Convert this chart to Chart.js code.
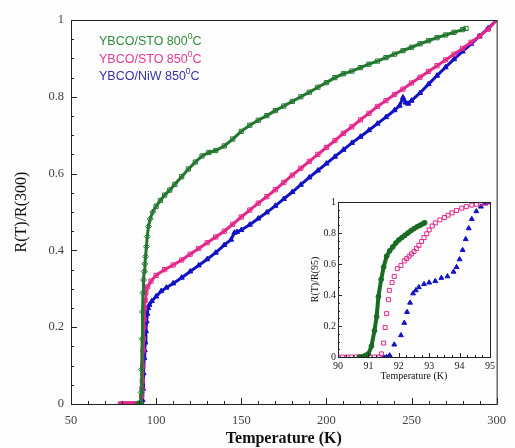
<!DOCTYPE html>
<html>
<head>
<meta charset="utf-8">
<script src="https://cdn.jsdelivr.net/npm/chart.js@4.4.1/dist/chart.umd.min.js"></script>
<style>
  body { margin: 0; background: #fdfdfd; }
  #wrap { position: relative; width: 515px; height: 448px; }
  #mainChart { position: absolute; left: 0; top: 0; }
  #insetChart { position: absolute; left: 300px; top: 192px; }
</style>
</head>
<body>
<div id="wrap">
  <canvas id="mainChart" width="515" height="448"></canvas>
  <canvas id="insetChart" width="198" height="195"></canvas>
</div>
<script>
// main panel, R(T)/R(300)
const greenT = [89.5, 90.2, 90.8, 91.2, 91.5, 91.8, 92, 92.3, 92.6, 93, 93.4, 93.8, 94.3, 94.8, 95.5, 96.5, 98, 100, 102.5, 105, 108, 111, 115, 119, 123, 127, 131, 135, 140, 145, 150, 155, 160, 165, 170, 175, 180, 185, 190, 195, 200, 205, 210, 215, 220, 225, 230, 235, 240, 245, 250, 255, 260, 265, 270, 275, 280, 282];
const greenR = [0, 0, 0, 0.03, 0.09, 0.17, 0.24, 0.29, 0.323, 0.345, 0.365, 0.384, 0.41, 0.436, 0.462, 0.482, 0.5, 0.515, 0.53, 0.544, 0.557, 0.572, 0.592, 0.612, 0.63, 0.646, 0.655, 0.66, 0.672, 0.69, 0.71, 0.726, 0.739, 0.751, 0.764, 0.776, 0.788, 0.8, 0.812, 0.825, 0.837, 0.85, 0.86, 0.867, 0.876, 0.885, 0.893, 0.902, 0.911, 0.92, 0.929, 0.938, 0.946, 0.954, 0.961, 0.968, 0.975, 0.978];

const pinkT = [79, 80, 81, 82, 83, 84, 85, 86, 87, 88, 89, 90, 91, 91.5, 91.7, 91.9, 92.1, 92.3, 92.5, 92.7, 92.9, 93.2, 93.5, 94, 95, 97, 100, 105, 110, 115, 120, 125, 130, 135, 140, 145, 150, 155, 160, 165, 170, 175, 180, 185, 190, 195, 200, 205, 210, 215, 220, 225, 230, 235, 240, 245, 250, 255, 260, 265, 270, 275, 280, 285, 290, 295, 300];
const pinkR = [0, 0, 0, 0, 0, 0, 0, 0, 0, 0, 0, 0, 0, 0.02, 0.04, 0.06, 0.1, 0.14, 0.17, 0.2, 0.22, 0.25, 0.27, 0.29, 0.305, 0.32, 0.335, 0.35, 0.362, 0.375, 0.39, 0.405, 0.42, 0.435, 0.45, 0.468, 0.487, 0.505, 0.523, 0.54, 0.558, 0.577, 0.596, 0.614, 0.632, 0.65, 0.668, 0.686, 0.705, 0.722, 0.74, 0.757, 0.775, 0.79, 0.806, 0.82, 0.836, 0.851, 0.866, 0.881, 0.896, 0.911, 0.926, 0.942, 0.958, 0.976, 1.0];

const blueT = [91.8, 92, 92.3, 92.6, 93, 93.3, 93.6, 94, 94.4, 94.8, 95.3, 96, 97.5, 100, 103, 106, 110, 115, 120, 125, 130, 135, 140, 144, 146, 147.5, 150, 155, 160, 165, 170, 175, 180, 185, 190, 195, 200, 205, 210, 215, 220, 225, 230, 235, 240, 243, 245, 246.5, 248, 250, 255, 260, 265, 270, 275, 280, 285, 290, 295, 300];
const blueR = [0, 0.01, 0.04, 0.08, 0.12, 0.14, 0.16, 0.19, 0.215, 0.235, 0.25, 0.258, 0.268, 0.28, 0.294, 0.303, 0.314, 0.329, 0.345, 0.361, 0.377, 0.394, 0.414, 0.428, 0.446, 0.448, 0.453, 0.467, 0.483, 0.499, 0.516, 0.534, 0.552, 0.571, 0.59, 0.608, 0.626, 0.644, 0.662, 0.68, 0.696, 0.713, 0.73, 0.747, 0.765, 0.777, 0.798, 0.785, 0.782, 0.79, 0.81, 0.833, 0.855, 0.877, 0.898, 0.918, 0.938, 0.958, 0.978, 1.0];

// inset, R(T)/R(95)
const greenInT = [90.7, 90.8, 90.9, 91.0, 91.1, 91.2, 91.27, 91.33, 91.42, 91.5, 91.6, 91.7, 91.8, 91.9, 92.0, 92.1, 92.2, 92.3, 92.4, 92.5, 92.6, 92.7, 92.8, 92.85];
const greenInR = [0, 0, 0.01, 0.02, 0.07, 0.17, 0.26, 0.39, 0.5, 0.58, 0.65, 0.685, 0.71, 0.735, 0.755, 0.77, 0.785, 0.8, 0.815, 0.828, 0.84, 0.85, 0.86, 0.866];

const pinkInT = [90, 90.15, 90.3, 90.45, 90.6, 90.75, 90.9, 91.05, 91.2, 91.35, 91.43, 91.5, 91.55, 91.6, 91.66, 91.69, 91.78, 91.85, 91.95, 92.07, 92.18, 92.26, 92.34, 92.42, 92.5, 92.58, 92.66, 92.75, 92.83, 92.92, 93, 93.1, 93.2, 93.35, 93.5, 93.62, 93.75, 93.9, 94.07, 94.22, 94.4, 94.55, 94.7, 94.82, 94.95];
const pinkInR = [0, 0, 0, 0, 0, 0, 0, 0, 0, 0, 0.02, 0.09, 0.19, 0.28, 0.37, 0.43, 0.48, 0.52, 0.57, 0.59, 0.62, 0.635, 0.65, 0.665, 0.68, 0.7, 0.72, 0.745, 0.77, 0.795, 0.82, 0.845, 0.865, 0.885, 0.9, 0.915, 0.93, 0.945, 0.96, 0.97, 0.98, 0.985, 0.99, 0.995, 1.0];

const blueInT = [91.5, 91.6, 91.7, 91.85, 92.07, 92.18, 92.27, 92.37, 92.47, 92.56, 92.66, 92.83, 93, 93.2, 93.4, 93.6, 93.8, 93.9, 94.0, 94.1, 94.2, 94.3, 94.4, 94.55, 94.7, 94.85, 95];
const blueInR = [0, 0, 0.01, 0.08, 0.14, 0.22, 0.29, 0.35, 0.41, 0.43, 0.45, 0.47, 0.48, 0.49, 0.51, 0.52, 0.55, 0.58, 0.63, 0.69, 0.76, 0.83, 0.89, 0.94, 0.97, 0.99, 1.0];

const legendLabels = ["YBCO/STO 800", "YBCO/STO 850", "YBCO/NiW 850"];

const GREEN = "#23772f";
const PINK = "#e3288c";
const BLUE = "#1111c4";
const SERIF = "'Liberation Serif', 'DejaVu Serif', serif";

function pts(xs, ys) {
  return xs.map((x, i) => ({ x, y: ys[i] }));
}

const plainTick = (v) => String(+Number(v).toFixed(1));

// box around the plot plus inward major/minor ticks on bottom and left
const frameTicks = {
  id: "frameTicks",
  afterDatasetsDraw(chart, args, opts) {
    const { ctx, chartArea: a, scales } = chart;
    ctx.save();
    ctx.strokeStyle = "#222";
    ctx.lineWidth = 1;
    ctx.strokeRect(a.left + 0.5, a.top + 0.5, a.right - a.left, a.bottom - a.top);
    ctx.beginPath();
    const xs = scales.x, ys = scales.y;
    for (let v = xs.min; v <= xs.max + 1e-9; v += opts.xMinor) {
      const px = Math.round(xs.getPixelForValue(v)) + 0.5;
      const major = Math.abs((v - xs.min) / opts.xMajor - Math.round((v - xs.min) / opts.xMajor)) < 1e-6;
      const len = major ? opts.major : opts.minor;
      ctx.moveTo(px, a.bottom);
      ctx.lineTo(px, a.bottom - len);
    }
    for (let v = ys.min; v <= ys.max + 1e-9; v += opts.yMinor) {
      const py = Math.round(ys.getPixelForValue(v)) + 0.5;
      const major = Math.abs(v / opts.yMajor - Math.round(v / opts.yMajor)) < 1e-6;
      const len = major ? opts.major : opts.minor;
      ctx.moveTo(a.left, py);
      ctx.lineTo(a.left + len, py);
    }
    ctx.stroke();
    ctx.restore();
  },
};

const legendText = {
  id: "legendText",
  afterDraw(chart) {
    const { ctx } = chart;
    const colors = ["#2f8a3c", "#df3a95", "#3333a8"];
    ctx.save();
    ctx.textBaseline = "middle";
    legendLabels.forEach((lab, i) => {
      const y = 42 + i * 17.5;
      let x = 99;
      ctx.fillStyle = colors[i];
      ctx.font = "12.5px 'Liberation Sans', Arial, sans-serif";
      ctx.fillText(lab, x, y);
      x += ctx.measureText(lab).width;
      ctx.font = "8.5px 'Liberation Sans', Arial, sans-serif";
      ctx.fillText("0", x, y - 5);
      x += ctx.measureText("0").width;
      ctx.font = "12.5px 'Liberation Sans', Arial, sans-serif";
      ctx.fillText("C", x, y);
    });
    ctx.restore();
  },
};

new Chart(document.getElementById("mainChart"), {
  type: "scatter",
  data: {
    datasets: [
      {
        data: pts(greenT, greenR),
        showLine: true,
        borderColor: GREEN,
        borderWidth: 3,
        pointRadius: 3,
        pointBorderWidth: 1,
        pointBorderColor: GREEN,
        pointBackgroundColor: (c) => (c.raw && c.raw.y === 0 ? GREEN : "rgba(0,0,0,0)"),
        pointStyle: (c) => (c.raw && c.raw.y === 0 ? "circle" : c.raw && c.raw.x < 100 ? "rectRot" : "rect"),
      },
      {
        data: pts(pinkT, pinkR),
        showLine: true,
        borderColor: PINK,
        borderWidth: 3,
        pointRadius: 3,
        pointBorderWidth: 1,
        pointBorderColor: PINK,
        pointBackgroundColor: (c) => (c.raw && c.raw.y === 0 ? PINK : "rgba(0,0,0,0)"),
        pointStyle: "rect",
      },
      {
        data: pts(blueT, blueR),
        showLine: true,
        borderColor: BLUE,
        borderWidth: 3,
        pointRadius: 3,
        pointBorderWidth: 1,
        pointBorderColor: BLUE,
        pointBackgroundColor: BLUE,
        pointStyle: "triangle",
      },
    ],
  },
  options: {
    responsive: false,
    animation: false,
    layout: { padding: { left: 0, top: 20, right: 10, bottom: 0 } },
    plugins: {
      legend: { display: false },
      tooltip: { enabled: false },
      frameTicks: { xMajor: 50, xMinor: 10, yMajor: 0.2, yMinor: 0.05, major: 6, minor: 3 },
    },
    scales: {
      x: {
        type: "linear",
        min: 50,
        max: 300,
        grid: { display: false, drawTicks: false },
        border: { display: false },
        ticks: { stepSize: 50, padding: 9, color: "#444", font: { family: SERIF, size: 12.5 }, callback: plainTick },
        title: {
          display: true,
          text: "Temperature (K)",
          color: "#111",
          font: { family: SERIF, size: 16, weight: "bold" },
          padding: { top: 0, bottom: 0 },
        },
        afterFit: (s) => { s.height = 44; },
      },
      y: {
        type: "linear",
        min: 0,
        max: 1,
        grid: { display: false, drawTicks: false },
        border: { display: false },
        ticks: { stepSize: 0.2, padding: 7, color: "#444", font: { family: SERIF, size: 12.5 }, callback: plainTick },
        title: {
          display: true,
          text: "R(T)/R(300)",
          color: "#111",
          font: { family: SERIF, size: 16 },
          padding: { top: 12, bottom: 0 },
        },
        afterFit: (s) => { s.width = 71; },
      },
    },
  },
  plugins: [frameTicks, legendText],
});

new Chart(document.getElementById("insetChart"), {
  type: "scatter",
  data: {
    datasets: [
      {
        data: pts(greenInT, greenInR),
        showLine: true,
        borderColor: "#1b6b24",
        borderWidth: 4,
        pointRadius: 2.4,
        pointBorderWidth: 1,
        pointBorderColor: "#1b6b24",
        pointBackgroundColor: "#1b6b24",
        pointStyle: "circle",
      },
      {
        data: pts(pinkInT, pinkInR),
        borderColor: PINK,
        pointRadius: 2.8,
        pointBorderWidth: 1,
        pointBorderColor: PINK,
        pointBackgroundColor: "rgba(0,0,0,0)",
        pointStyle: "rect",
      },
      {
        data: pts(blueInT, blueInR),
        borderColor: BLUE,
        pointRadius: 2.8,
        pointBorderWidth: 1,
        pointBorderColor: BLUE,
        pointBackgroundColor: BLUE,
        pointStyle: "triangle",
      },
    ],
  },
  options: {
    responsive: false,
    animation: false,
    layout: { padding: { left: 0, top: 10, right: 6, bottom: 0 } },
    plugins: {
      legend: { display: false },
      tooltip: { enabled: false },
      frameTicks: { xMajor: 1, xMinor: 0.25, yMajor: 0.2, yMinor: 0.05, major: 4, minor: 2 },
    },
    scales: {
      x: {
        type: "linear",
        min: 90,
        max: 95,
        grid: { display: false, drawTicks: false },
        border: { display: false },
        ticks: { stepSize: 1, padding: 3, color: "#222", font: { family: SERIF, size: 10 }, callback: plainTick },
        title: {
          display: true,
          text: "Temperature (K)",
          color: "#111",
          font: { family: SERIF, size: 10 },
          padding: { top: 0, bottom: 5 },
        },
        afterFit: (s) => { s.height = 30; },
      },
      y: {
        type: "linear",
        min: 0,
        max: 1,
        grid: { display: false, drawTicks: false },
        border: { display: false },
        ticks: { stepSize: 0.2, padding: 2, color: "#222", font: { family: SERIF, size: 10 }, callback: plainTick },
        title: {
          display: true,
          text: "R(T)/R(95)",
          color: "#111",
          font: { family: SERIF, size: 10 },
          padding: { top: 9, bottom: 0 },
        },
        afterFit: (s) => { s.width = 38; },
      },
    },
  },
  plugins: [frameTicks],
});
</script>
</body>
</html>
